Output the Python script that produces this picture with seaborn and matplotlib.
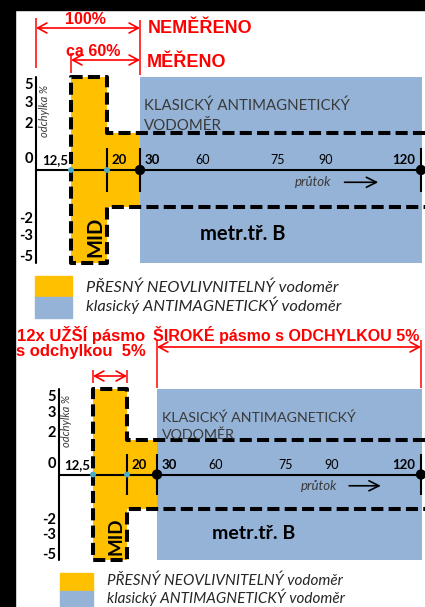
import numpy as np
import matplotlib.pyplot as plt
from matplotlib.patches import Rectangle
import seaborn as sns

W, H = 425, 607

# values
flow_ticks = [12.5, 20, 30, 60, 75, 90, 120]            # průtok
flow_labels = ["12,5", "20", "30", "60", "75", "90", "120"]
dev_ticks = [5, 3, 2, 0, -2, -3, -5]                     # odchylka %
dev_labels = ["5", "3", "2", "0", "-2", "-3", "-5"]
mid_flow = [12.5, 20]          # MID, full band +-5 %
mid_low_flow = [12.5, 30]      # MID, band +-2 %
classic_flow = [30, 120]       # klasický antimagnetický vodoměr
wide_dev = 5
narrow_dev = 2
cyan_dots = [12.5, 20]
black_dots = [30, 120]
tick_flows = [20, 30, 120]

# layout (not data): where labels sit, how the schematic axis is stretched
knot_flows = [0, 12.5, 20, 30, 120]
flow_label_at = [12.5, 20, 30, 50, 74, 89.5, 120]
flow_label_ha = ["right", "left", "left", "center", "center", "center", "right"]
flow_label_dx = [-3, 4, 4.5, 0, 0, 0, -6]
flow_label_bold = [True, True, True, False, False, False, True]
dev_label_at = [4.55, 3.6, 2.45, 0.6, -2.65, -3.55, -4.7]

RED = "#FF0000"
YELLOW = "#FFC000"
BLUE = "#95B3D7"
CYAN = "#4BACC6"
GREY = "#3A3A3A"
ARIAL = ["Liberation Sans", "DejaVu Sans"]

sns.set_theme(style="white")
plt.rcParams["font.family"] = ["Lato", "DejaVu Sans"]

fig = plt.figure(figsize=(W / 100, H / 100), dpi=100)
fig.patch.set_facecolor("white")
fig.patches.append(Rectangle((0, 1 - 10 / H), 1, 10 / H, transform=fig.transFigure,
                             color="black", zorder=0))
fig.patches.append(Rectangle((0, 0), 15 / W, 1, transform=fig.transFigure,
                             color="black", zorder=0))


def ftext(x, y, s, **kw):
    """text placed in figure pixels (from top-left)"""
    fig.text(x / W, 1 - y / H, s, **kw)


def make_scale(knots_px):
    fk = np.array(knot_flows, float)
    pk = np.array(knots_px, float)

    def extrap(x, a, b):
        x = np.asarray(x, float)
        y = np.interp(x, a, b)
        y = np.where(x < a[0], b[0] + (x - a[0]) * (b[1] - b[0]) / (a[1] - a[0]), y)
        y = np.where(x > a[-1], b[-1] + (x - a[-1]) * (b[-1] - b[-2]) / (a[-1] - a[-2]), y)
        return y

    return (lambda x: extrap(x, fk, pk)), (lambda p: extrap(p, pk, fk))


def arrow(ax, x0, x1, y):
    ax.annotate("", xy=(x1, y), xytext=(x0, y),
                arrowprops=dict(arrowstyle="<->,head_length=0.55,head_width=0.3",
                                color=RED, lw=1.2, shrinkA=0, shrinkB=0))


def draw_panel(top, bottom, knots_px, y0, unit, sizes):
    fwd, inv = make_scale(knots_px)
    ax = fig.add_axes([15 / W, 1 - bottom / H, (W - 15) / W, (bottom - top) / H])
    ax.set_facecolor("none")
    ax.set_xscale("function", functions=(fwd, inv))
    x_right = float(inv(W))
    blue_right = float(inv(422))

    # boxes
    ax.fill_between([classic_flow[0], blue_right], -wide_dev, wide_dev,
                    color=BLUE, lw=0, zorder=1)
    ax.fill_between(mid_flow, -wide_dev, wide_dev, color=YELLOW, lw=0, zorder=1)
    ax.fill_between(mid_low_flow, -narrow_dev, narrow_dev, color=YELLOW, lw=0, zorder=1)

    # axes of the schematic
    sns.lineplot(x=[0, classic_flow[1]], y=[0, 0], color="black", lw=1.5, ax=ax, zorder=3)
    ax.plot([0, 0], [-wide_dev, wide_dev], color="black", lw=1.5, zorder=3)
    ax.vlines(tick_flows, -1.2, 1.2, color="black", lw=1.5, zorder=3)

    # dashed outline of the MID meter
    xs = [x_right, mid_flow[1], mid_flow[1], mid_flow[0], mid_flow[0],
          mid_flow[1], mid_flow[1], x_right]
    ys = [narrow_dev, narrow_dev, wide_dev, wide_dev, -wide_dev,
          -wide_dev, -narrow_dev, -narrow_dev]
    ax.plot(xs, ys, color="black", lw=2.9, ls=(0, (3, 1.3)), zorder=4,
            solid_joinstyle="miter")

    sns.scatterplot(x=black_dots, y=[0] * len(black_dots), color="black", s=55,
                    edgecolor="none", ax=ax, zorder=5, legend=False)
    sns.scatterplot(x=cyan_dots, y=[0] * len(cyan_dots), color=CYAN, s=18,
                    edgecolor="none", ax=ax, zorder=5, legend=False)

    # tick labels
    for lab, at, ha, dx, bold in zip(flow_labels, flow_label_at, flow_label_ha,
                                     flow_label_dx, flow_label_bold):
        ax.annotate(lab, xy=(at, 0.55), xytext=(dx * 0.72, 0), textcoords="offset points",
                    ha=ha, va="center", fontsize=9.5 if bold else 9, color="black",
                    fontweight="bold" if bold else "normal")
    for lab, at in zip(dev_labels, dev_label_at):
        ax.annotate(lab, xy=(0, at), xytext=(-3 * 0.72, 0), textcoords="offset points",
                    ha="right", va="center", fontsize=10.5, fontweight="bold", color="black")

    ax.text(2.9, 3.15, "odchylka %", rotation=90, ha="center", va="center",
            fontsize=8, style="italic", color=GREY)
    ax.text(85.4, -0.66, "průtok", ha="center", va="center", fontsize=9.5,
            style="italic", color=GREY)
    ax.annotate("", xy=(106.3, -0.66), xytext=(95.5, -0.66),
                arrowprops=dict(arrowstyle="->,head_length=0.6,head_width=0.3",
                                color="black", lw=1.2, shrinkA=0, shrinkB=0))
    ax.text(63, -3.45, "metr.tř. B", ha="center", va="center",
            fontsize=sizes["metr"], fontweight="bold", color="black")
    ax.text(17.6, -3.6, "MID", rotation=90, ha="center", va="center",
            fontsize=sizes["mid"], fontweight="bold", color="black")

    ax.set_xlim(float(inv(15)), x_right)
    ax.set_ylim((y0 - bottom) / unit, (y0 - top) / unit)
    ax.set_axis_off()
    return ax, (lambda ypx: (y0 - ypx) / unit)


# ---- top panel -------------------------------------------------------------
ax1, yof1 = draw_panel(10, 275, [36, 71, 107, 140, 421], 170, 18.6,
                       {"metr": 14.5, "mid": 14.5})
arrow(ax1, 0, 30, yof1(28))
arrow(ax1, 12.5, 30, yof1(60))
ax1.vlines([0], yof1(68), yof1(18), color=RED, lw=1.1)
ax1.vlines([30], yof1(75), yof1(20), color=RED, lw=1.1)
ax1.vlines([12.5], yof1(73), yof1(53), color=RED, lw=1.1)

ftext(85, 24, "100%", ha="center", va="baseline", fontsize=11.5,
      fontweight="bold", color=RED, family=ARIAL)
ftext(148, 33, "NEMĚŘENO", ha="left", va="baseline", fontsize=13,
      fontweight="bold", color=RED, family=ARIAL)
ftext(93, 56, "ca 60%", ha="center", va="baseline", fontsize=11.5,
      fontweight="bold", color=RED, family=ARIAL)
ftext(147, 67, "MĚŘENO", ha="left", va="baseline", fontsize=13,
      fontweight="bold", color=RED, family=ARIAL)
ftext(144, 110, "KLASICKÝ ANTIMAGNETICKÝ", ha="left", va="baseline",
      fontsize=10.8, color=GREY)
ftext(144, 130, "VODOMĚR", ha="left", va="baseline", fontsize=10.8, color=GREY)

# legend, top
fig.patches.append(Rectangle((35 / W, 1 - 297 / H), 37 / W, 21 / H,
                             transform=fig.transFigure, color=YELLOW))
fig.patches.append(Rectangle((35 / W, 1 - 318 / H), 37 / W, 21 / H,
                             transform=fig.transFigure, color=BLUE))
ftext(86, 292, "PŘESNÝ NEOVLIVNITELNÝ vodoměr", ha="left", va="baseline",
      fontsize=11.8, style="italic", color="#262626")
ftext(86, 311, "klasický ANTIMAGNETICKÝ vodoměr", ha="left", va="baseline",
      fontsize=11.8, style="italic", color="#262626")

# ---- bottom panel ----------------------------------------------------------
ax2, yof2 = draw_panel(318, 572, [59, 93, 127, 157, 421], 474.5, 17.1,
                       {"metr": 14, "mid": 13.5})
arrow(ax2, 30, 120, yof2(347))
arrow(ax2, 12.5, 20, yof2(376))
ax2.vlines([30, 120], yof2(388), yof2(340), color=RED, lw=1.1)
ax2.vlines([12.5, 20], yof2(383), yof2(370), color=RED, lw=1.1)

ftext(17, 341, "12x UŽŠÍ pásmo", ha="left", va="baseline", fontsize=12,
      fontweight="bold", color=RED, family=ARIAL)
ftext(16, 356, "s odchylkou  5%", ha="left", va="baseline", fontsize=12,
      fontweight="bold", color=RED, family=ARIAL)
ftext(153, 341, "ŠIROKÉ pásmo s ODCHYLKOU 5%", ha="left", va="baseline",
      fontsize=11.5, fontweight="bold", color=RED, family=ARIAL)
ftext(162, 422, "KLASICKÝ ANTIMAGNETICKÝ", ha="left", va="baseline",
      fontsize=10.3, color=GREY)
ftext(162, 439, "VODOMĚR", ha="left", va="baseline", fontsize=10.3, color=GREY)

# legend, bottom
fig.patches.append(Rectangle((60 / W, 1 - 591 / H), 33 / W, 18 / H,
                             transform=fig.transFigure, color=YELLOW))
fig.patches.append(Rectangle((60 / W, 1 - 607 / H), 33 / W, 16 / H,
                             transform=fig.transFigure, color=BLUE))
ftext(107, 585, "PŘESNÝ NEOVLIVNITELNÝ vodoměr", ha="left", va="baseline",
      fontsize=11, style="italic", color="#262626")
ftext(107, 603, "klasický ANTIMAGNETICKÝ vodoměr", ha="left", va="baseline",
      fontsize=11, style="italic", color="#262626")

fig.savefig("out.png", dpi=100)
